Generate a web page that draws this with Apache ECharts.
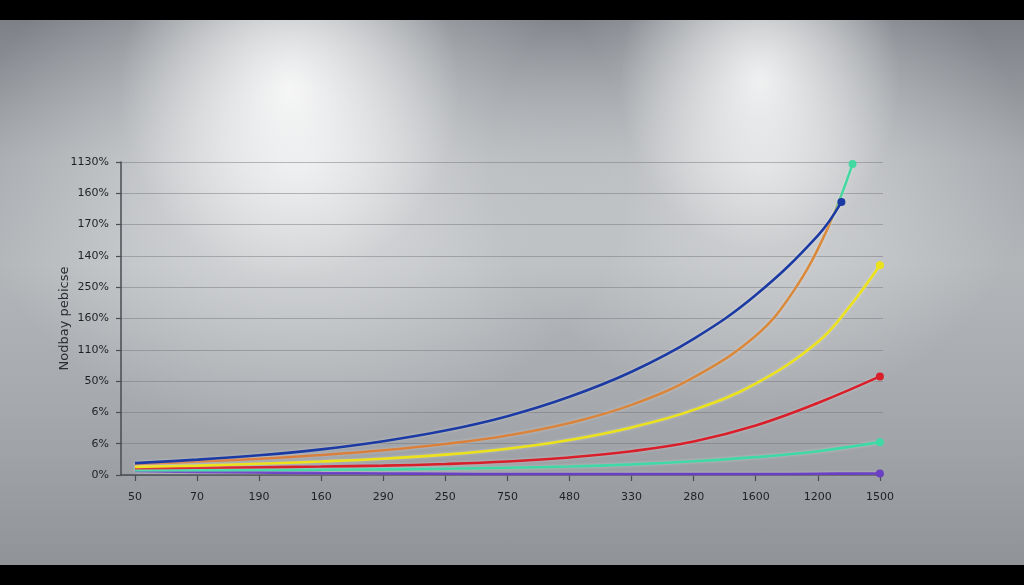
<!DOCTYPE html>
<html>
<head>
<meta charset="utf-8">
<script src="https://cdn.jsdelivr.net/npm/echarts@6/dist/echarts.min.js"></script>
<style>
html,body{margin:0;padding:0;background:#000;width:1024px;height:585px;overflow:hidden;}
#bg{position:absolute;left:0;top:20px;width:1024px;height:545px;
background:
 radial-gradient(ellipse 170px 190px at 290px 70px, rgba(255,255,255,0.85), rgba(255,255,255,0) 100%),
 radial-gradient(ellipse 330px 270px at 300px 150px, rgba(245,246,247,0.7), rgba(245,246,247,0) 100%),
 radial-gradient(ellipse 140px 170px at 760px 60px, rgba(255,255,255,0.8), rgba(255,255,255,0) 100%),
 radial-gradient(ellipse 270px 240px at 760px 150px, rgba(240,241,242,0.6), rgba(240,241,242,0) 100%),
 linear-gradient(to bottom, #7d8187 0%, #a6a9ad 25%, #b3b6b9 45%, #a6a9ad 70%, #909499 100%);}
#c{position:absolute;left:0;top:0;width:1024px;height:585px;}
</style>
</head>
<body>
<div id="bg"></div>
<div id="c"></div>
<script>
const xTickLabels = ['50','70','190','160','290','250','750','480','330','280','1600','1200','1500'];
const yTickLabels = ['0%','6%','6%','50%','110%','160%','250%','140%','170%','160%','1130%'];
const yAxisName = 'Nodbay pebicse';

// [x position index, value]
const blueSeries   = [[0,0.38],[1,0.49],[2,0.63],[3,0.82],[4,1.08],[5,1.42],[6,1.88],[7,2.50],[8,3.30],[9,4.35],[10,5.75],[11,7.65],[11.38,8.72]];
const orangeSeries = [[0,0.35],[1,0.43],[2,0.52],[3,0.64],[4,0.79],[5,0.99],[6,1.26],[7,1.66],[8,2.24],[9,3.12],[10,4.45],[10.6,5.85],[11.14,7.8],[11.56,9.94]];
const yellowSeries = [[0,0.26],[1,0.30],[2,0.36],[3,0.43],[4,0.52],[5,0.65],[6,0.84],[7,1.12],[8,1.52],[9,2.08],[10,2.92],[11,4.25],[11.5,5.35],[12,6.70]];
const redSeries    = [[0,0.22],[1,0.23],[2,0.25],[3,0.27],[4,0.30],[5,0.35],[6,0.43],[7,0.56],[8,0.76],[9,1.07],[10,1.58],[11,2.30],[12,3.15]];
const tealSeries   = [[0,0.15],[1,0.15],[2,0.16],[3,0.17],[4,0.18],[5,0.20],[6,0.23],[7,0.27],[8,0.34],[9,0.44],[10,0.57],[11,0.76],[12,1.05]];
const purpleSeries = [[0,0.13],[1,0.10],[2,0.08],[3,0.06],[4,0.05],[5,0.04],[6,0.03],[7,0.03],[8,0.03],[9,0.03],[10,0.03],[11,0.04],[12,0.05]];

const tickIdx = xTickLabels.map((_, i) => i);

function mk(name, data, color, endColor, lineColor) {
  const d = data.map((p, i) => i === data.length - 1
    ? { value: p, symbol: 'circle', symbolSize: 8, itemStyle: { color: endColor || color } }
    : { value: p, symbol: 'none' });
  return {
    name, type: 'line', data: d, smooth: 0.4, showAllSymbol: true,
    lineStyle: { width: 2.6, color: lineColor || color, shadowBlur: 3, shadowColor: 'rgba(255,255,255,0.35)' },
    itemStyle: { color: endColor || color },
    emphasis: { disabled: true }, z: 3
  };
}

const chart = echarts.init(document.getElementById('c'), null, { renderer: 'canvas' });
chart.setOption({
  backgroundColor: 'transparent',
  animation: false,
  grid: { left: 121, right: 141, top: 162, bottom: 110, containLabel: false },
  xAxis: {
    type: 'value', min: -0.225, max: 12.05,
    axisLine: { show: true, onZero: false, lineStyle: { color: '#4a4d52', width: 1.5 } },
    axisTick: { show: true, customValues: tickIdx, length: 6, lineStyle: { color: '#4a4d52', width: 1.2 } },
    axisLabel: { customValues: tickIdx, formatter: v => xTickLabels[Math.round(v)] ?? '', color: '#1e2024', fontSize: 11, margin: 17, fontFamily: 'DejaVu Sans' },
    splitLine: { show: false }
  },
  yAxis: {
    type: 'value', min: 0, max: 10, interval: 1,
    name: yAxisName, nameLocation: 'middle', nameGap: 50, nameRotate: 90, nameMoveOverlap: false,
    nameTextStyle: { color: '#2a2d31', fontSize: 13, fontFamily: 'DejaVu Sans' },
    axisLine: { show: true, onZero: false, lineStyle: { color: '#4a4d52', width: 1.5 } },
    axisTick: { show: true, length: 5, lineStyle: { color: '#4a4d52', width: 1.2 } },
    axisLabel: { formatter: v => yTickLabels[Math.round(v)] ?? '', color: '#1e2024', fontSize: 11, margin: 12, fontFamily: 'DejaVu Sans' },
    splitLine: { show: true, lineStyle: { color: 'rgba(110,114,120,0.45)', width: 1 } }
  },
  series: [
    mk('purple', purpleSeries, '#6a3fc4'),
    mk('teal', tealSeries, '#3fd9a6'),
    mk('red', redSeries, '#d81f2a'),
    mk('yellow', yellowSeries, '#ece21c'),
    mk('orange', orangeSeries, '#d97a3c', '#44d9a2',
      new echarts.graphic.LinearGradient(0, 0, 1, 0, [
        { offset: 0, color: '#d97a3c' }, { offset: 0.965, color: '#d98a3c' },
        { offset: 0.982, color: '#44d9a2' }, { offset: 1, color: '#44d9a2' }])),
    mk('blue', blueSeries, '#1b3aa3')
  ]
});
</script>
</body>
</html>
